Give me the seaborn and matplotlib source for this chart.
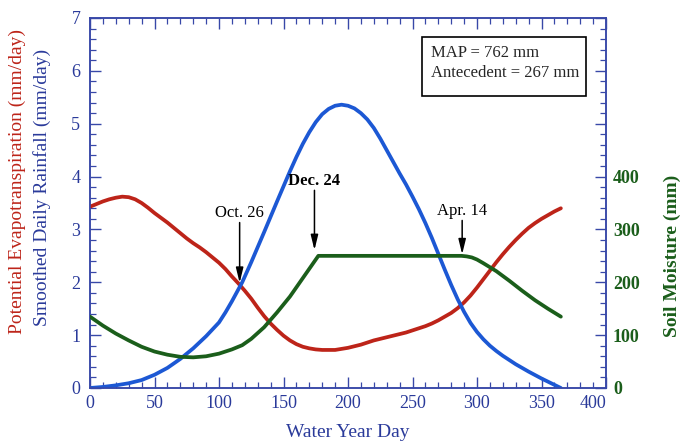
import numpy as np
import pandas as pd
import matplotlib
matplotlib.use("Agg")
import matplotlib.pyplot as plt
import seaborn as sns
from matplotlib.ticker import MultipleLocator, FuncFormatter
from matplotlib.patches import Rectangle

# ---- data ----
pet_days = [0, 5, 10, 15, 20, 25, 30, 35, 40, 45, 50, 55, 60, 65, 70, 75, 80, 85, 90, 95, 100, 105,
            110, 115, 120, 125, 130, 135, 140, 145, 150, 155, 160, 165, 170, 175, 180, 185, 190, 195,
            200, 205, 210, 215, 220, 225, 230, 235, 240, 245, 250, 255, 260, 265, 270, 275, 280, 285,
            290, 295, 300, 305, 310, 315, 320, 325, 330, 335, 340, 345, 350, 355, 360, 365]
pet_vals = [3.43, 3.48, 3.53, 3.57, 3.60, 3.62, 3.61, 3.57, 3.50, 3.41, 3.31, 3.22, 3.13, 3.03, 2.93,
            2.83, 2.74, 2.66, 2.57, 2.47, 2.37, 2.25, 2.11, 1.98, 1.84, 1.69, 1.52, 1.36, 1.22, 1.10,
            0.99, 0.90, 0.83, 0.78, 0.75, 0.73, 0.72, 0.72, 0.72, 0.74, 0.76, 0.79, 0.82, 0.86, 0.90,
            0.93, 0.96, 0.99, 1.02, 1.05, 1.09, 1.13, 1.17, 1.22, 1.28, 1.35, 1.42, 1.51, 1.62, 1.75,
            1.90, 2.06, 2.22, 2.38, 2.53, 2.67, 2.80, 2.92, 3.03, 3.12, 3.20, 3.27, 3.34, 3.40]

rain_days = [0, 10, 20, 30, 40, 50, 60, 70, 80, 90, 100, 105, 110, 118, 125, 135, 145, 155, 160, 165,
             170, 175, 180, 185, 190, 195, 200, 205, 210, 215, 220, 225, 230, 235, 240, 245, 250, 255,
             260, 265, 270, 275, 280, 285, 290, 295, 300, 305, 310, 315, 320, 330, 340, 350, 360, 365]
rain_vals = [0.00, 0.02, 0.05, 0.09, 0.15, 0.25, 0.38, 0.55, 0.75, 0.98, 1.24, 1.43, 1.64, 2.00, 2.38,
             2.95, 3.53, 4.10, 4.37, 4.62, 4.84, 5.03, 5.18, 5.28, 5.34, 5.36, 5.34, 5.29, 5.20, 5.08,
             4.92, 4.72, 4.50, 4.28, 4.06, 3.85, 3.62, 3.38, 3.12, 2.84, 2.54, 2.24, 1.95, 1.68, 1.44,
             1.23, 1.06, 0.92, 0.80, 0.70, 0.61, 0.45, 0.31, 0.18, 0.06, 0.00]

soil_days = [0, 10, 20, 30, 40, 50, 60, 70, 80, 90, 100, 110, 118, 125, 135, 145, 155, 165, 177,
             288, 292, 296, 300, 305, 315, 325, 335, 345, 355, 365]
soil_vals = [135, 118, 103, 90, 78, 69, 63, 59, 58, 60, 65, 73, 81, 93, 115, 143, 173, 208, 250,
             250, 249, 247, 243, 236, 221, 203, 184, 166, 150, 135]

events = ["Oct. 26", "Dec. 24", "Apr. 14"]
event_days = [116, 174, 288.5]
event_tips = [1.99, 2.61, 2.53]
event_text_y = [3.31, 3.92, 3.35]
event_bold = [False, True, False]

box_lines = ["MAP = 762 mm", "Antecedent = 267 mm"]

# ---- style ----
sns.set_style("ticks")
plt.rcParams["font.family"] = ["Liberation Serif", "DejaVu Serif"]

AX_C = "#3848a8"
TXT_C = "#2a3a9a"
RED = "#bd2419"
BLUE = "#1c58d4"
GREEN = "#1b5e1b"

fig = plt.figure(figsize=(6.84, 4.47), dpi=100)
ax = fig.add_axes([90 / 684, 59 / 447, 516 / 684, 370 / 447])
ax2 = ax.twinx()

pet = pd.DataFrame({"day": pet_days, "val": pet_vals})
rain = pd.DataFrame({"day": rain_days, "val": rain_vals})
soil = pd.DataFrame({"day": soil_days, "val": soil_vals})

line_kw = dict(lw=2.7, zorder=3, solid_capstyle="round", solid_joinstyle="round")
sns.lineplot(data=pet, x="day", y="val", ax=ax, color=RED, **line_kw)
sns.lineplot(data=rain, x="day", y="val", ax=ax, color=BLUE, **line_kw)
sns.lineplot(data=soil, x="day", y="val", ax=ax2, color=GREEN, **line_kw)

ax.set_xlim(0, 400)
ax.set_ylim(0, 7)
ax2.set_ylim(0, 700)

ax.xaxis.set_major_locator(MultipleLocator(50))
ax.xaxis.set_minor_locator(MultipleLocator(10))
ax.yaxis.set_major_locator(MultipleLocator(1))
ax.yaxis.set_minor_locator(MultipleLocator(0.2))
ax2.yaxis.set_major_locator(MultipleLocator(100))
ax2.yaxis.set_minor_locator(MultipleLocator(20))
ax2.yaxis.set_major_formatter(FuncFormatter(lambda v, p: f"{int(round(v))}" if v <= 400.5 else ""))

ax.tick_params(axis="both", which="both", direction="in", color=AX_C, labelcolor=TXT_C,
               labelsize=13, top=True)
ax.tick_params(axis="both", which="major", length=8, width=1)
ax.tick_params(axis="both", which="minor", length=4, width=0.9)
ax.tick_params(axis="y", pad=7)
ax.tick_params(axis="x", pad=5)
ax2.tick_params(axis="y", which="both", direction="in", color=AX_C, labelcolor=GREEN, labelsize=13)
ax2.tick_params(axis="y", which="major", length=8, width=1, pad=5)
ax2.tick_params(axis="y", which="minor", length=4, width=0.9)
for lab in ax2.get_yticklabels():
    lab.set_fontweight("bold")

fig.canvas.draw()
xlabs = ax.get_xticklabels()
for lab in xlabs:
    if lab.get_text() == "400":
        lab.set_ha("right")

for a in (ax, ax2):
    for s in a.spines.values():
        s.set_visible(True)
        s.set_color(AX_C)
        s.set_linewidth(1.1)

ax.set_xlabel("Water Year Day", fontsize=14, color=TXT_C, labelpad=9)
ax.set_ylabel("")
ax2.set_ylabel("")

fig.text(17 / 684, 1 - 181 / 447, "Potential Evapotranspiration (mm/day)", rotation=90,
         fontsize=14, color=RED, ha="center", va="center")
fig.text(42 / 684, 1 - 187 / 447, "Smoothed Daily Rainfall (mm/day)", rotation=90,
         fontsize=14, color=TXT_C, ha="center", va="center")
fig.text(672 / 684, 1 - 256 / 447, "Soil Moisture (mm)", rotation=90, fontsize=14,
         color=GREEN, ha="center", va="center", fontweight="bold")

for name, d, tip, ty, bold in zip(events, event_days, event_tips, event_text_y, event_bold):
    ax.annotate("", xy=(d, tip), xytext=(d, ty - 0.18),
                arrowprops=dict(arrowstyle="-|>,head_length=0.9,head_width=0.22",
                                color="black", lw=1.1, shrinkA=0, shrinkB=0), zorder=5)
    ax.text(d, ty, name, ha="center", va="center", fontsize=12, color="black",
            fontweight="bold" if bold else "normal", zorder=5)

ax.add_patch(Rectangle((0.643, 0.789), 0.318, 0.159, transform=ax.transAxes,
                       fill=False, edgecolor="black", lw=1.2, zorder=5))
ax.text(0.661, 0.905, box_lines[0], transform=ax.transAxes, fontsize=12, va="center", ha="left")
ax.text(0.661, 0.851, box_lines[1], transform=ax.transAxes, fontsize=12, va="center", ha="left")

fig.savefig("out.png", dpi=100)
